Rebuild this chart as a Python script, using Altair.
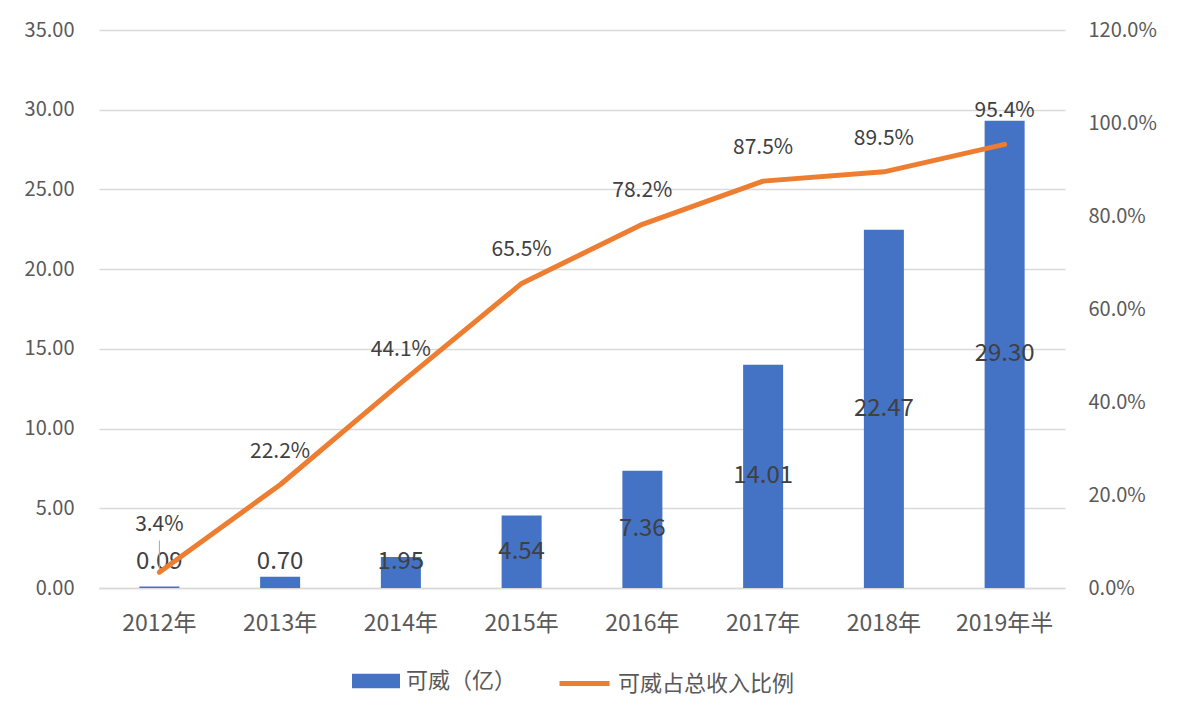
import altair as alt
import pandas as pd

years = ["2012年", "2013年", "2014年", "2015年", "2016年", "2017年", "2018年", "2019年半"]
revenue = [0.09, 0.70, 1.95, 4.54, 7.36, 14.01, 22.47, 29.30]
share_pct = [3.4, 22.2, 44.1, 65.5, 78.2, 87.5, 89.5, 95.4]

bar_name = "可威（亿）"
line_name = "可威占总收入比例"

df = pd.DataFrame({
    "year": years,
    "rev": revenue,
    "share": [p / 100 for p in share_pct],
    "s1": bar_name,
    "s2": line_name,
})

FONT = "Noto Sans CJK SC"
BLUE = "#4472C4"
ORANGE = "#ED7D31"

x = alt.X("year:N", sort=years, title=None,
          scale=alt.Scale(paddingInner=0.67, paddingOuter=0.335),
          axis=alt.Axis(labelAngle=0, ticks=False, domain=True, domainColor="#D9D9D9",
                        domainWidth=1.5, labelFontSize=23, labelColor="#595959",
                        labelPadding=24, labelFont=FONT))

yl_scale = alt.Scale(domain=[0, 35], nice=False)
yr_scale = alt.Scale(domain=[0, 1.2], nice=False)

left_axis = alt.Axis(values=[0, 5, 10, 15, 20, 25, 30, 35], format=".2f", title=None,
                     domain=False, ticks=False, grid=True, gridColor="#D9D9D9",
                     gridWidth=1.5, labelFontSize=20, labelColor="#595959",
                     labelPadding=25, labelFont=FONT)
right_axis = alt.Axis(orient="right", values=[0, 0.2, 0.4, 0.6, 0.8, 1.0, 1.2],
                      format=".1%", title=None, domain=False, ticks=False, grid=False,
                      labelFontSize=20, labelColor="#595959", labelPadding=23,
                      labelFont=FONT)

base = alt.Chart(df)

bars = base.mark_bar(size=40).encode(
    x=x,
    y=alt.Y("rev:Q", scale=yl_scale, title=None, axis=left_axis),
    color=alt.Color("s1:N", title=None,
                    scale=alt.Scale(domain=[bar_name], range=[BLUE]),
                    legend=alt.Legend(orient="none", legendX=253, legendY=627,
                                      symbolType="M-1,-0.3H1V0.3H-1Z", symbolSize=2304,
                                      symbolStrokeWidth=0, labelFontSize=22,
                                      labelColor="#595959", labelFont=FONT,
                                      padding=0, labelOffset=6, labelLimit=0)),
)

bar_text = base.transform_calculate(
    ty="max(datum.rev / 2, 1.6)"
).mark_text(fontSize=24, color="#404040", font=FONT, baseline="middle").encode(
    x=x,
    y=alt.Y("ty:Q", scale=yl_scale, title=None, axis=left_axis),
    text=alt.Text("rev:Q", format=".2f"),
)

leader = base.transform_filter("datum.share < 0.065").transform_calculate(
    ly="max(datum.share, 0.065) + 0.037"
).mark_rule(color="#A6A6A6", strokeWidth=1).encode(
    x=x,
    y=alt.Y("share:Q", scale=yr_scale, title=None, axis=right_axis),
    y2="ly:Q",
)

line = base.mark_line(strokeWidth=5, strokeCap="round", strokeJoin="round").encode(
    x=x,
    y=alt.Y("share:Q", scale=yr_scale, title=None, axis=right_axis),
    stroke=alt.Stroke("s2:N", title=None,
                      scale=alt.Scale(domain=[line_name], range=[ORANGE]),
                      legend=alt.Legend(orient="none", legendX=458, legendY=626,
                                        symbolType="stroke", symbolSize=2500,
                                        symbolStrokeWidth=5, labelFontSize=22,
                                        labelColor="#595959", labelFont=FONT,
                                        padding=0, labelOffset=6, labelLimit=0)),
)

line_text = base.transform_calculate(
    ty="max(datum.share, 0.065)"
).mark_text(fontSize=21, color="#404040", font=FONT, dy=-33).encode(
    x=x,
    y=alt.Y("ty:Q", scale=yr_scale, title=None, axis=right_axis),
    text=alt.Text("share:Q", format=".1%"),
)

chart = alt.layer(
    alt.layer(bars, bar_text),
    alt.layer(leader, line, line_text),
).resolve_scale(y="independent").properties(
    width=966, height=558,
    autosize=alt.AutoSizeParams(type="none"),
    padding={"left": 99, "top": 30, "right": 116, "bottom": 132},
    background="white",
).configure_view(stroke=None)

chart.save("out.html", embed_options={"renderer": "svg", "actions": False})
